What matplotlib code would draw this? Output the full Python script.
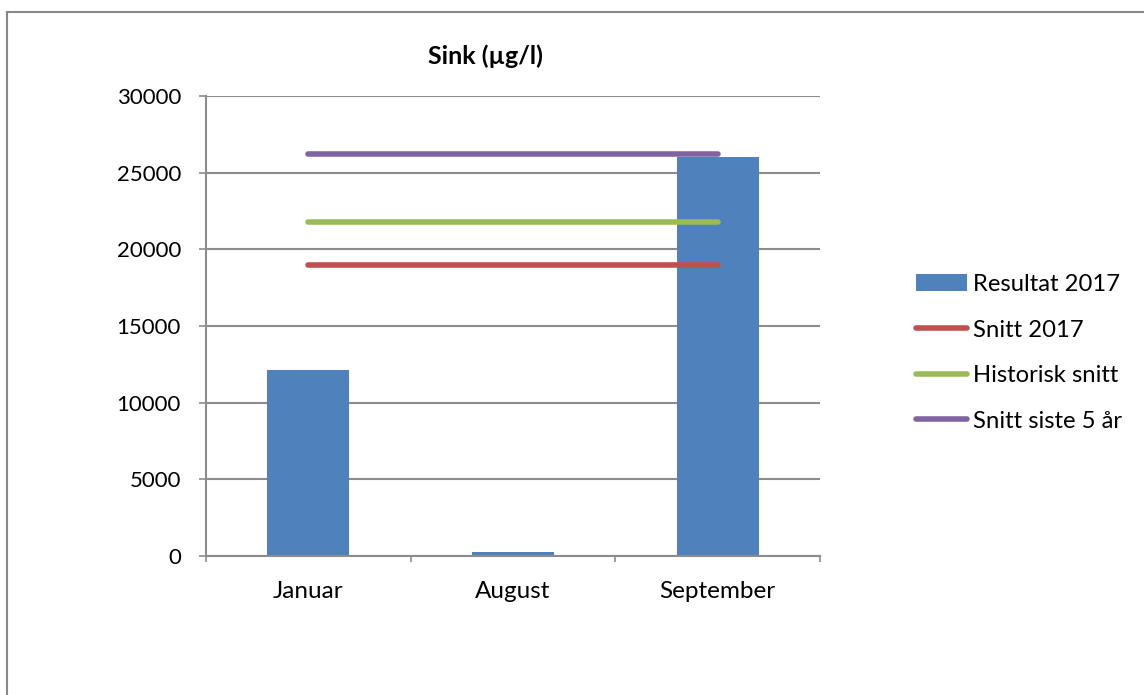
import matplotlib
matplotlib.use("Agg")
import matplotlib.pyplot as plt
from matplotlib.lines import Line2D
from matplotlib.patches import Patch
import numpy as np

plt.rcParams['font.family'] = ['Lato', 'DejaVu Sans']

categories = ["Januar", "August", "September"]
resultat_2017 = [12100, 260, 26000]
snitt_2017 = [19000, 19000, 19000]
historisk_snitt = [21800, 21800, 21800]
snitt_siste_5 = [26230, 26230, 26230]
yticks = [0, 5000, 10000, 15000, 20000, 25000, 30000]

c_bar = "#4F81BD"
c_red = "#C0504D"
c_green = "#9BBB59"
c_purple = "#8064A2"
c_grid = "#8C8C8C"

W, H = 1144, 695
fig = plt.figure(figsize=(W / 100, H / 100), dpi=100)
fig.patch.set_facecolor("white")

ax = fig.add_axes([206 / W, 1 - 556 / H, (820 - 206) / W, (556 - 96) / H])
x = np.arange(len(categories))
ax.bar(x, resultat_2017, width=0.4, color=c_bar, zorder=3, label="Resultat 2017")
lw = 4.0
ax.plot(x, snitt_2017, color=c_red, lw=lw, solid_capstyle="round", zorder=4, label="Snitt 2017")
ax.plot(x, historisk_snitt, color=c_green, lw=lw, solid_capstyle="round", zorder=4, label="Historisk snitt")
ax.plot(x, snitt_siste_5, color=c_purple, lw=lw, solid_capstyle="round", zorder=4, label="Snitt siste 5 år")

ax.set_xlim(-0.5, 2.5)
ax.set_ylim(0, 30000)
ax.set_yticks(yticks)
ax.set_yticklabels([str(v) for v in yticks], fontsize=16)
ax.set_xticks(x)
ax.set_xticklabels(categories, fontsize=17.5)
ax.set_xticks([-0.5, 0.5, 1.5, 2.5], minor=True)
ax.tick_params(axis="x", which="major", length=0, pad=18)
ax.tick_params(axis="x", which="minor", length=4.5, width=1.2, color=c_grid, direction="out")
ax.tick_params(axis="y", which="major", length=5, width=1.2, color=c_grid, direction="out", pad=13)
ax.yaxis.grid(True, color=c_grid, lw=1.5, zorder=0)
for s in ["top", "right"]:
    ax.spines[s].set_visible(False)
for s in ["left", "bottom"]:
    ax.spines[s].set_color(c_grid)
    ax.spines[s].set_linewidth(1.5)
    ax.spines[s].set_zorder(5)

fig.text(485 / W, 1 - 56 / H, "Sink (µg/l)", ha="center", va="center",
         fontsize=18, fontweight="bold")

handles = [
    Patch(facecolor=c_bar, edgecolor="none"),
    Line2D([0], [0], color=c_red, lw=lw, solid_capstyle="round"),
    Line2D([0], [0], color=c_green, lw=lw, solid_capstyle="round"),
    Line2D([0], [0], color=c_purple, lw=lw, solid_capstyle="round"),
]
labels = ["Resultat 2017", "Snitt 2017", "Historisk snitt", "Snitt siste 5 år"]
fig.legend(handles, labels, loc="upper left", bbox_to_anchor=(916 / W, 1 - 274 / H),
           frameon=False, fontsize=17.2, handlelength=2.15, handletextpad=0.25,
           labelspacing=1.03, borderaxespad=0, borderpad=0)

# chart area border
fig.add_artist(Line2D([7 / W, 7 / W], [0, 1 - 12 / H], color="#888888", lw=1.5))
fig.add_artist(Line2D([7 / W, 1], [1 - 12 / H, 1 - 12 / H], color="#888888", lw=1.5))

fig.savefig("out.png", dpi=100, facecolor="white")
